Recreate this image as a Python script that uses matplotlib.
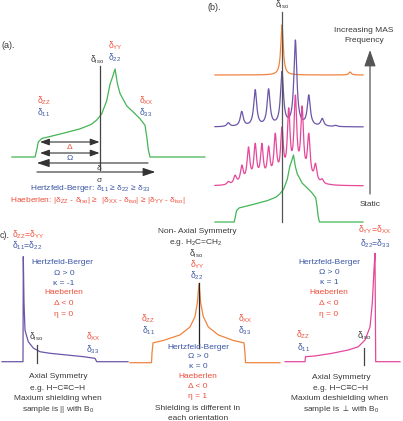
import numpy as np
import matplotlib.pyplot as plt
from matplotlib.transforms import blended_transform_factory

plt.rcParams['font.family'] = ['Liberation Sans', 'DejaVu Sans']
plt.rcParams['mathtext.fontset'] = 'custom'
plt.rcParams['mathtext.rm'] = 'Liberation Sans'
plt.rcParams['mathtext.it'] = 'Liberation Sans:italic'
plt.rcParams['mathtext.bf'] = 'Liberation Sans:bold'

W, H = 403, 421

RED = '#ee4f3b'
BLUE = '#3b56a5'
GREY = '#3a3a3a'
GREEN = '#43b556'
ORANGE = '#f0843e'
PURPLE = '#6c56a7'
PINK = '#e5489b'

########## data ##########
# static powder pattern used in (a) and (b): shift (ppm) vs normalised intensity
d_iso = 0
static_ppm = [61.8, 60.2, 58.7, 55.4, 45, 34.7, 18.7, 8, 2.7, -2.1, -6.9, -10.1,
              -12.5, -14.9, -17.2, -19.7, -26.1, -32.4, -38.8, -43.6, -45.3, -46.8, -48.4]
static_int = [0, 0.08, 0.17, 0.21, 0.24, 0.27, 0.32, 0.37, 0.42, 0.49, 0.64, 0.83,
              0.91, 1.0, 0.83, 0.72, 0.58, 0.51, 0.435, 0.36, 0.23, 0.08, 0]

# MAS spectra in (b): sideband positions (ppm) and peak heights
orange_ppm = [0, -88]
orange_h = [1.0, 0.06]
purple_ppm = [69.3, 52.0, 34.6, 17.3, 0, -17.3, -34.6, -52.0, -69.3]
purple_h = [0.05, 0.18, 0.43, 0.44, 0.64, 1.0, 0.37, 0.10, 0.02]
pink_ppm = [69.3, 60.6, 51.9, 43.3, 34.6, 26.0, 17.3, 8.7, 0, -8.7, -17.3, -26.0,
            -34.6, -43.3, -51.9, -60.6]
pink_h = [0.05, 0.12, 0.23, 0.43, 0.47, 0.47, 0.44, 0.58, 0.65, 0.86, 1.0, 0.88,
          0.58, 0.25, 0.08, 0.02]

# static patterns in (c)
c1_ppm = [61, 40, 39.7, 39, 38, 34.7, 29.7, 23, 13, -3.7, -20.3, -32, -33.7, -65]
c1_int = [0, 0, 1.0, 0.56, 0.30, 0.19, 0.13, 0.095, 0.08, 0.064, 0.048, 0.032, 0, 0]
c1_iso = 26
c2_ppm = [69, 47.5, 47, 46, 35.7, 19, 9, 4, 1.7, 0, -1.7, -4.3, -9.3, -19.3, -34.3,
          -45, -46, -46.5, -81]
c2_int = [0, 0, 0.12, 0.25, 0.28, 0.35, 0.45, 0.58, 0.75, 1.0, 0.75, 0.58, 0.45,
          0.35, 0.28, 0.25, 0.12, 0, 0]
c2_iso = 0
c3_ppm = [50, 30, 29.5, 20, 3.3, -13.3, -23.3, -30, -35, -37.3, -39, -40, -40.7, -65]
c3_int = [0, 0, 0.046, 0.053, 0.077, 0.108, 0.138, 0.2, 0.32, 0.54, 0.85, 1.0, 0, 0]
c3_iso = -29


def d(sub):
    return r'$\mathrm{\delta_{%s}}$' % sub


fig = plt.figure(figsize=(W / 100, H / 100), dpi=100)

# overlay in pixel units for text / annotations
ov = fig.add_axes([0, 0, 1, 1])
ov.set_xlim(0, W)
ov.set_ylim(H, 0)
ov.axis('off')
ov.set_zorder(5)


def spec_axes(x0, x1, base, top, ppm0, ppm1):
    ax = fig.add_axes([x0 / W, 1 - base / H, (x1 - x0) / W, (base - top) / H])
    ax.set_xlim(ppm0, ppm1)
    ax.set_ylim(0, 1)
    ax.axis('off')
    return ax


def lorentz_sum(ax, pos, heights, hw, color, ppm0, ppm1):
    pos = np.array(pos, float)
    h = np.array(heights, float)
    M = 1 / (1 + ((pos[:, None] - pos[None, :]) / hw) ** 2)
    amps = np.linalg.solve(M, h)
    x = np.linspace(ppm0, ppm1, 2000)
    y = (amps[None, :] / (1 + ((x[:, None] - pos[None, :]) / hw) ** 2)).sum(axis=1)
    ax.plot(x, y, color=color, lw=0.9, clip_on=False)


def label(x, y, s, color=GREY, size=6, ha='center'):
    ov.text(x, y, s, color=color, fontsize=size, ha=ha, va='center')


DS = 6.2  # size of the delta labels

########## (a) ##########
ax_a = spec_axes(0, 210, 157, 69, 95.4, -105.9)
ax_a.plot([84] + static_ppm + [-101], [0] + static_int + [0], color=GREEN, lw=0.9, clip_on=False)
tr_a = blended_transform_factory(ax_a.transData, ov.transData)
ov.plot([d_iso, d_iso], [66, 170], color='#444444', lw=0.9, transform=tr_a)

arr_small = dict(arrowstyle='<|-|>,head_length=0.55,head_width=0.2', mutation_scale=10,
                 color='#333333', lw=0.8, shrinkA=0, shrinkB=0)
arr_long = dict(arrowstyle='-|>,head_length=0.75,head_width=0.25', mutation_scale=10,
                color='#333333', lw=0.8, shrinkA=0, shrinkB=0)
ov.annotate('', xy=(d_iso, 142), xytext=(57, 142), xycoords=tr_a, textcoords=tr_a, arrowprops=arr_small)
ov.annotate('', xy=(d_iso, 153), xytext=(57, 153), xycoords=tr_a, textcoords=tr_a, arrowprops=arr_small)
ov.annotate('', xy=(60, 163), xytext=(-46.5, 163), xycoords=tr_a, textcoords=tr_a, arrowprops=arr_long)
ov.annotate('', xy=(-53.5, 172), xytext=(60, 172), xycoords=tr_a, textcoords=tr_a, arrowprops=arr_long)

label(2, 45, '(a).', size=6.5, ha='left')
label(97, 60, d('iso'), size=DS)
label(115, 46, d('YY'), RED, size=DS)
label(115, 58, d('22'), BLUE, size=DS)
label(44, 101, d('ZZ'), RED, size=DS)
label(44, 113, d('11'), BLUE, size=DS)
label(146, 101, d('XX'), RED, size=DS)
label(146, 113, d('33'), BLUE, size=DS)
label(70, 147.5, '\u0394', RED)
label(70, 159, '\u03a9', BLUE)
label(99, 168, '\u03b4')
label(99, 180, '\u03c3')
label(90, 189, 'Hertzfeld-Berger: ' + d('11') + ' \u2265 ' + d('22') + ' \u2265 ' + d('33'), BLUE)
label(98, 201, 'Haeberlen: |' + d('ZZ') + ' - ' + d('iso') + '| \u2265  |' + d('XX') + ' - '
      + d('iso') + '| \u2265 |' + d('YY') + ' - ' + d('iso') + '|', RED)

########## (b) ##########
b0, b1 = 93.0, -113.7
line0, line1 = 86.6, -104.7
ax_bg = spec_axes(210, 370, 222, 155, b0, b1)
ax_bg.plot([line0] + static_ppm + [line1], [0] + static_int + [0], color=GREEN, lw=0.9, clip_on=False)
ax_bo = spec_axes(210, 370, 75, 25, b0, b1)
lorentz_sum(ax_bo, orange_ppm, orange_h, 1.9, ORANGE, line0, line1)
ax_bp = spec_axes(210, 370, 127, 40, b0, b1)
lorentz_sum(ax_bp, purple_ppm, purple_h, 2.3, PURPLE, line0, line1)
ax_bk = spec_axes(210, 370, 186, 95, b0, b1)
lorentz_sum(ax_bk, pink_ppm, pink_h, 2.2, PINK, line0, line1)
tr_b = blended_transform_factory(ax_bg.transData, ov.transData)
ov.plot([d_iso, d_iso], [12, 222], color='#555555', lw=0.9, transform=tr_b)

ov.annotate('', xy=(370, 50), xytext=(370, 194),
            arrowprops=dict(arrowstyle='-|>,head_length=1.0,head_width=0.35', mutation_scale=10,
                            color='#555555', lw=0.9, shrinkA=0, shrinkB=0))
label(208, 7, '(b).', size=6.5, ha='left')
label(282, 5, d('iso'), size=DS)
label(364, 30, 'Increasing MAS')
label(364, 41, 'Frequency')
label(370, 205, 'Static')

########## (c) ##########
ax_c1 = spec_axes(0, 130, 361.7, 256.7, 63, -67)
ax_c1.plot(c1_ppm, c1_int, color=PURPLE, lw=0.9, clip_on=False)
ax_c2 = spec_axes(130, 280, 362.7, 283.3, 69, -81)
ax_c2.plot(c2_ppm, c2_int, color=ORANGE, lw=0.9, clip_on=False)
ax_c3 = spec_axes(280, 403, 361.7, 253.3, 55, -68)
ax_c3.plot(c3_ppm, c3_int, color=PINK, lw=0.9, clip_on=False)

ov.plot([c1_iso, c1_iso], [345, 363], color='#444444', lw=0.9,
        transform=blended_transform_factory(ax_c1.transData, ov.transData))
ov.plot([c2_iso, c2_iso], [283, 348], color='#222222', lw=0.9,
        transform=blended_transform_factory(ax_c2.transData, ov.transData))
ov.plot([c3_iso, c3_iso], [348, 365], color='#444444', lw=0.9,
        transform=blended_transform_factory(ax_c3.transData, ov.transData))

label(0, 235, 'c).', size=6.5, ha='left')
label(11.5, 235, d('ZZ') + '=' + d('YY'), RED, size=DS, ha='left')
label(11.5, 246, d('11') + '=' + d('22'), BLUE, size=DS, ha='left')

# left block
label(62, 263, 'Hertzfeld-Berger', BLUE)
label(64, 273.3, '\u03a9 > 0', BLUE)
label(64, 283.3, '\u03ba = -1', BLUE)
label(64, 293, 'Haeberlen', RED)
label(64, 303.3, '\u0394 < 0', RED)
label(64, 314, '\u03b7 = 0', RED)
label(36.5, 337, d('iso'), size=DS)
label(93, 337, d('XX'), RED, size=DS)
label(93, 349.5, d('33'), BLUE, size=DS)
label(58, 377, 'Axial Symmetry')
label(58, 388.5, 'e.g. H\u2212C\u2261C\u2212H')
label(58, 399, 'Maxium shielding when')
label(58, 409.5, 'sample is || with B$_0$')

# middle block
label(197, 231.5, 'Non- Axial Symmetry')
label(196, 242, 'e.g. H$_2$C=CH$_2$')
label(196, 254, d('iso'), size=DS)
label(197, 264.5, d('YY'), RED, size=DS)
label(197, 276, d('22'), BLUE, size=DS)
label(148.5, 319, d('ZZ'), RED, size=DS)
label(148.5, 331, d('11'), BLUE, size=DS)
label(245, 319, d('XX'), RED, size=DS)
label(245, 331, d('33'), BLUE, size=DS)
label(198, 347.3, 'Hertzfeld-Berger', BLUE)
label(198, 357, '\u03a9 > 0', BLUE)
label(198, 367, '\u03ba = 0', BLUE)
label(198, 377, 'Haeberlen', RED)
label(198, 387, '\u0394 < 0', RED)
label(198, 397, '\u03b7 = 1', RED)
label(198, 409, 'Shielding is different in')
label(198, 418.5, 'each orientation')

# right block
label(375, 230, d('YY') + '=' + d('XX'), RED, size=DS)
label(375, 244, d('22') + '=' + d('33'), BLUE, size=DS)
label(329, 263, 'Hertzfeld-Berger', BLUE)
label(329, 273, '\u03a9 > 0', BLUE)
label(329, 283, '\u03ba = 1', BLUE)
label(329, 293, 'Haeberlen', RED)
label(329, 303.3, '\u0394 < 0', RED)
label(329, 314, '\u03b7 = 0', RED)
label(303.5, 335, d('ZZ'), RED, size=DS)
label(303.5, 347.5, d('11'), BLUE, size=DS)
label(364, 336, d('iso'), size=DS)
label(341, 377.3, 'Axial Symmetry')
label(341, 389, 'e.g. H\u2212C\u2261C\u2212H')
label(340, 399, 'Maxium deshielding when')
label(341, 409.3, r'sample is $\perp$ with B$_0$')

fig.savefig('out.png', dpi=100)
